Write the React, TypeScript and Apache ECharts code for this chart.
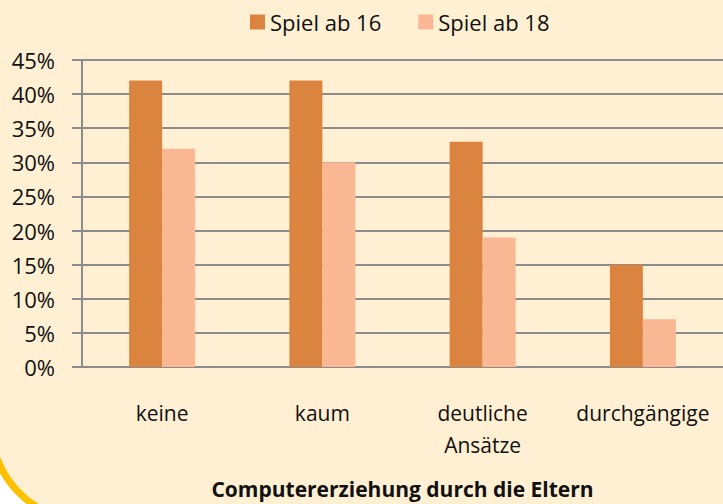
import React, { useEffect, useRef } from "react";
import * as echarts from "echarts";

const categories = ["keine", "kaum", "deutliche\nAnsätze", "durchgängige"];
const seriesNames = ["Spiel ab 16", "Spiel ab 18"];
const spielAb16 = [42, 42, 33, 15];
const spielAb18 = [32, 30, 19, 7];
const xAxisTitle = "Computererziehung durch die Eltern";

const FONT = "'Open Sans', 'Noto Sans', sans-serif";

export default function App() {
  const ref = useRef<HTMLDivElement>(null);
  useEffect(() => {
    if (!ref.current) return;
    const chart = echarts.init(ref.current, undefined, { renderer: "svg" });
    chart.setOption({
      animation: false,
      backgroundColor: "#ffffff",
      textStyle: { fontFamily: FONT },
      graphic: [
        {
          type: "rect",
          z: -10,
          silent: true,
          shape: { x: -9, y: -20, width: 800, height: 541, r: [0, 0, 0, 96] },
          style: { fill: "#fff0d4", stroke: "#ffc000", lineWidth: 7 },
        },
      ],
      legend: {
        top: 6,
        left: 245,
        itemWidth: 15,
        itemHeight: 15,
        itemGap: 37,
        icon: "rect",
        textStyle: { fontSize: 22, color: "#111", fontFamily: FONT },
        data: seriesNames,
      },
      grid: { left: 82, top: 60, width: 644, height: 309, containLabel: false },
      xAxis: {
        type: "category",
        data: categories,
        axisLine: { show: true, lineStyle: { color: "#8c8c8c", width: 2 } },
        axisTick: { show: false },
        axisLabel: {
          fontSize: 21,
          color: "#111",
          margin: 30,
          lineHeight: 32,
          fontFamily: FONT,
          interval: 0,
        },
        name: xAxisTitle,
        nameLocation: "middle",
        nameGap: 111,
        nameTextStyle: { fontSize: 21, fontWeight: "bold", color: "#111", fontFamily: FONT },
      },
      yAxis: {
        type: "value",
        min: 0,
        max: 45,
        interval: 5,
        axisLine: { show: true, lineStyle: { color: "#8c8c8c", width: 2 } },
        axisTick: { show: true, length: 10, lineStyle: { color: "#8c8c8c", width: 2 } },
        splitLine: { show: true, lineStyle: { color: "#8c8c8c", width: 2 } },
        axisLabel: {
          formatter: "{value}%",
          fontSize: 22,
          color: "#111",
          margin: 27,
          fontFamily: FONT,
        },
      },
      series: [
        {
          name: seriesNames[0],
          type: "bar",
          data: spielAb16,
          barWidth: 33,
          barGap: "0%",
          itemStyle: { color: "#db8440" },
        },
        {
          name: seriesNames[1],
          type: "bar",
          data: spielAb18,
          barWidth: 33,
          barGap: "0%",
          itemStyle: { color: "#f9b793" },
        },
      ],
    });
    return () => chart.dispose();
  }, []);
  return <div ref={ref} style={{ width: 723, height: 504, position: "fixed", left: 0, top: 0 }} />;
}
